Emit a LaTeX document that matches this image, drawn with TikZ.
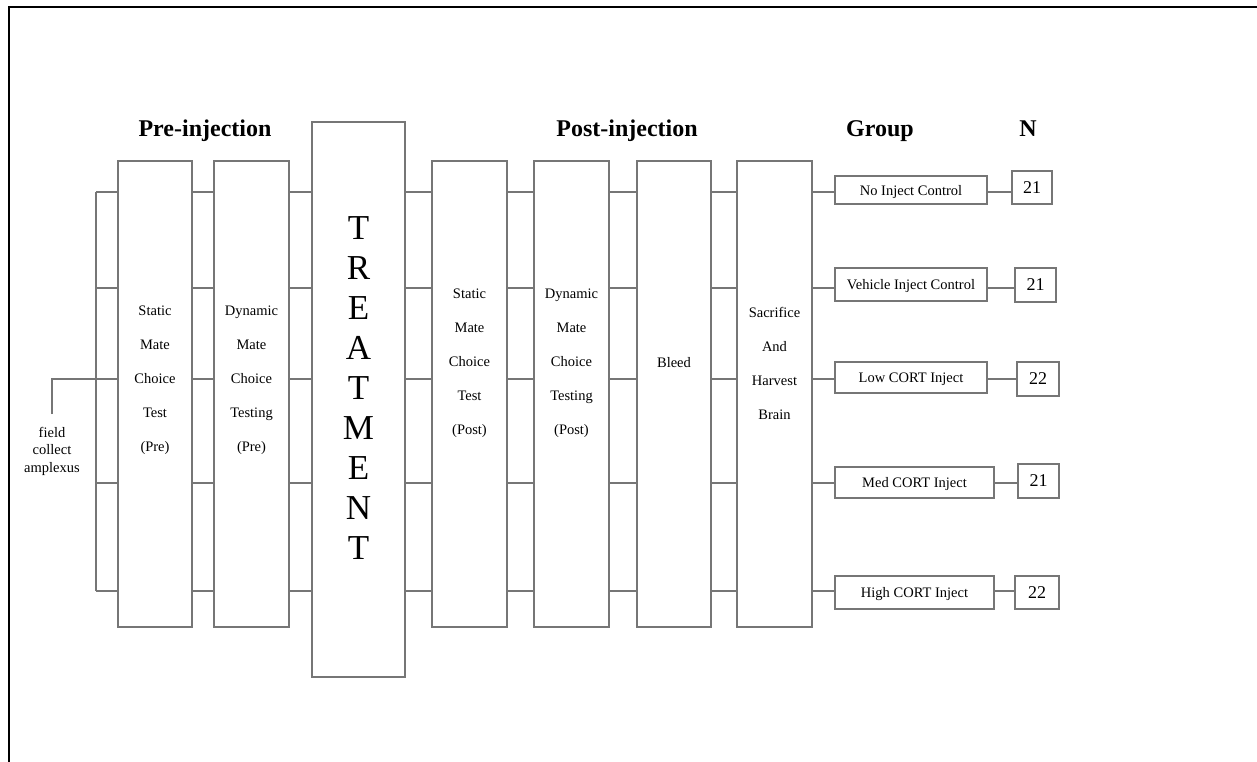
\documentclass[tikz,border=0pt]{standalone}
\usepackage{fontspec}
\setmainfont{Liberation Serif}
\definecolor{linegray}{RGB}{118,118,118}
\begin{document}
\begin{tikzpicture}[x=1pt,y=-1pt,
  box/.style={draw=linegray, line width=1.1pt, inner sep=0pt, fill=white},
  conn/.style={draw=linegray, line width=1.1pt},
  small/.style={font=\fontsize{14.5}{34}\selectfont, align=center, inner sep=0pt},
  grp/.style={font=\fontsize{14.5}{17}\selectfont, inner sep=0pt, text depth=0pt},
  num/.style={font=\fontsize{18}{20}\selectfont, inner sep=0pt},
  head/.style={font=\fontsize{24}{28}\selectfont\bfseries, inner sep=0pt, anchor=base}]
\useasboundingbox (0,0) rectangle (1257,762);
\fill[white] (0,0) rectangle (1257,762);
% frame
\draw[line width=2pt, black] (1257,7) -- (9,7) -- (9,762);
% headings
\node[head] (hpre) at (205,137) {Pre-injection};
\node[head] (hpost) at (627,137) {Post-injection};
\node[head] (hgrp) at (880,137) {Group};
\node[head] (hn) at (1028,137) {N};
% row levels
\coordinate (r1) at (0,192);
\coordinate (r2) at (0,288);
\coordinate (r3) at (0,379);
\coordinate (r4) at (0,483);
\coordinate (r5) at (0,591);
\coordinate (bustop) at (96,192);
\coordinate (busbot) at (96,591);
% stage boxes
\node[box, minimum width=74pt, minimum height=466pt] (b1) at (155,394) {};
\node[box, minimum width=75pt, minimum height=466pt] (b2) at (251.5,394) {};
\node[box, minimum width=93pt, minimum height=555pt] (tr) at (358.5,399.5) {};
\node[box, minimum width=75pt, minimum height=466pt] (b3) at (469.5,394) {};
\node[box, minimum width=75pt, minimum height=466pt] (b4) at (571.5,394) {};
\node[box, minimum width=74pt, minimum height=466pt] (b5) at (674,394) {};
\node[box, minimum width=75pt, minimum height=466pt] (b6) at (774.5,394) {};
% stage texts
\node[small] (t1) at (155,380.5) {Static\\Mate\\Choice\\Test\\(Pre)};
\node[small] (t2) at (251.5,380.5) {Dynamic\\Mate\\Choice\\Testing\\(Pre)};
\node[font=\fontsize{35}{40}\selectfont, align=center, inner sep=0pt] (ttr) at (358.5,388) {T\\R\\E\\A\\T\\M\\E\\N\\T};
\node[small] (t3) at (469.5,363) {Static\\Mate\\Choice\\Test\\(Post)};
\node[small] (t4) at (571.5,363) {Dynamic\\Mate\\Choice\\Testing\\(Post)};
\node[small] (t5) at (674,363) {Bleed};
\node[small] (t6) at (774.5,363) {Sacrifice\\And\\Harvest\\Brain};
% group boxes
\node[box, grp, minimum width=152pt, minimum height=28pt] (g1) at (911,190) {No Inject Control};
\node[box, grp, minimum width=152pt, minimum height=33pt] (g2) at (911,284.5) {Vehicle Inject Control};
\node[box, grp, minimum width=152pt, minimum height=31pt] (g3) at (911,377.5) {Low CORT Inject};
\node[box, grp, minimum width=159pt, minimum height=31pt] (g4) at (914.5,482.5) {Med CORT Inject};
\node[box, grp, minimum width=159pt, minimum height=33pt] (g5) at (914.5,592.5) {High CORT Inject};
% N boxes
\node[box, num, minimum width=40pt, minimum height=33pt] (n1) at (1032,187.5) {21};
\node[box, num, minimum width=41pt, minimum height=34pt] (n2) at (1035.5,285) {21};
\node[box, num, minimum width=42pt, minimum height=34pt] (n3) at (1038,379) {22};
\node[box, num, minimum width=41pt, minimum height=34pt] (n4) at (1038.5,481) {21};
\node[box, num, minimum width=44pt, minimum height=33pt] (n5) at (1037,592.5) {22};
% field collect
\node[font=\fontsize{14.5}{17.5}\selectfont, align=center, inner xsep=0pt, inner ysep=13pt, anchor=north] (fld) at (52,414) {field\\collect\\amplexus};
% connectors
\draw[conn] (bustop) -- (busbot);
\draw[conn] (fld.north) |- (bustop |- r3);
\foreach \i in {1,...,5} {
  \draw[conn] (bustop |- r\i) -- (b1.west |- r\i);
  \draw[conn] (b1.east |- r\i) -- (b2.west |- r\i);
  \draw[conn] (b2.east |- r\i) -- (tr.west |- r\i);
  \draw[conn] (tr.east |- r\i) -- (b3.west |- r\i);
  \draw[conn] (b3.east |- r\i) -- (b4.west |- r\i);
  \draw[conn] (b4.east |- r\i) -- (b5.west |- r\i);
  \draw[conn] (b5.east |- r\i) -- (b6.west |- r\i);
  \draw[conn] (b6.east |- r\i) -- (g\i.west |- r\i);
  \draw[conn] (g\i.east |- r\i) -- (n\i.west |- r\i);
}
\end{tikzpicture}
\end{document}
